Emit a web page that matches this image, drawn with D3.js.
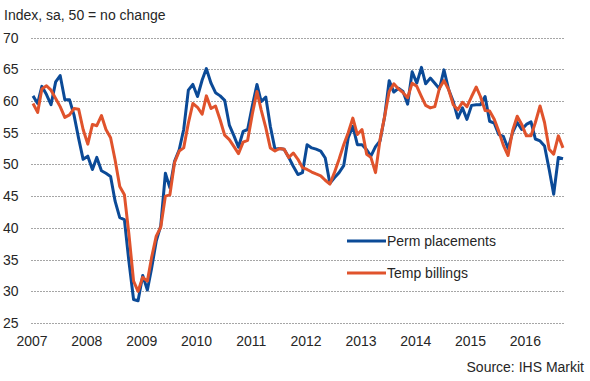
<!DOCTYPE html>
<html>
<head>
<meta charset="utf-8">
<script src="https://cdn.jsdelivr.net/npm/d3@7"></script>
<style>
  html, body { margin: 0; padding: 0; background: #fff; }
  svg { display: block; font-family: "Liberation Sans", Arial, sans-serif; }
</style>
</head>
<body>
<svg id="chart" width="590" height="381"></svg>
<script>
// ---- Data (monthly, Jan 2007 – Sep 2016) ----
const startYear = 2007;
const yearLabels = ["2007","2008","2009","2010","2011","2012","2013","2014","2015","2016"];
const yTicks = [25, 30, 35, 40, 45, 50, 55, 60, 65, 70];

const permPlacements = [
  60.8, 59.6, 62.3, 61.0, 59.4, 63.0, 64.0, 60.2, 60.2, 57.8, 54.1, 50.8,
  51.3, 49.2, 51.1, 49.0, 48.6, 48.1, 44.2, 41.6, 41.3, 34.7, 28.7, 28.5,
  32.5, 30.2, 33.6, 37.9, 40.3, 48.6, 46.3, 50.5, 52.3, 55.5, 61.7, 62.6,
  60.7, 63.3, 65.1, 62.8, 61.3, 60.8, 60.1, 56.2, 54.5, 52.7, 55.2, 55.5,
  59.2, 62.6, 59.9, 60.6, 56.0, 52.4, 52.5, 52.4, 51.1, 49.7, 48.4, 48.7,
  53.1, 52.6, 52.4, 52.1, 51.0, 47.0, 47.9, 48.7, 49.8, 54.2, 56.0, 53.1,
  53.1, 52.3, 51.3, 52.8, 53.7, 57.6, 63.2, 61.4, 62.0, 61.5, 59.5, 64.6,
  62.8, 65.3, 62.7, 63.6, 62.8, 61.9, 64.9, 61.8, 59.9, 57.3, 58.9, 57.1,
  59.3, 59.4, 59.4, 60.7, 56.8, 56.5, 54.7, 54.4, 52.5, 55.0, 56.6, 55.5,
  56.3, 56.7, 54.0, 53.7, 52.9, 49.2, 45.3, 51.1, 50.9
];

const tempBillings = [
  59.6, 58.2, 61.9, 62.4, 61.7, 60.4, 59.1, 57.4, 57.8, 58.8, 58.7, 55.5,
  53.2, 56.3, 56.1, 57.7, 55.5, 54.2, 50.7, 46.5, 45.2, 39.0, 31.6, 30.0,
  32.2, 31.6, 35.3, 38.7, 40.1, 45.0, 45.2, 50.3, 52.1, 52.6, 56.5, 59.6,
  59.0, 57.9, 60.8, 58.8, 59.2, 57.0, 54.6, 53.9, 52.8, 51.7, 53.5, 53.8,
  57.9, 61.5, 58.6, 55.8, 52.6, 52.1, 52.5, 52.4, 51.1, 51.8, 50.8, 49.5,
  49.2, 48.8, 48.5, 48.2, 47.5, 46.9, 48.7, 50.8, 53.1, 55.0, 57.3, 54.7,
  55.5, 51.6, 51.1, 48.7, 53.9, 57.6, 61.5, 62.7, 61.9, 61.3, 60.5, 62.8,
  62.3, 60.7, 59.3, 58.9, 59.1, 62.0, 63.2, 61.8, 59.4, 58.6, 59.8, 59.1,
  60.7, 62.2, 60.7, 58.5, 58.4, 57.1, 55.2, 53.0, 51.4, 55.3, 57.6, 56.3,
  54.5, 54.5, 56.6, 59.2, 56.6, 52.4, 51.6, 54.5, 52.6
];

const seriesNames = ["Perm placements", "Temp billings"];
const seriesColors = ["#0b4a97", "#e0532c"];

// ---- Chart ----
const svg = d3.select("#chart");
const textColor = "#262626";

const dateOf = i => new Date(startYear, i, 1);
const n = permPlacements.length;

const x = d3.scaleTime()
  .domain([dateOf(0), dateOf(n - 1)])
  .range([33, 563]);

const y = d3.scaleLinear()
  .domain([25, 70])
  .range([323, 37.5]);

// gridlines
svg.append("g")
  .selectAll("line")
  .data(yTicks)
  .join("line")
  .attr("x1", 31)
  .attr("x2", 565)
  .attr("y1", d => Math.round(y(d)) + 0.5)
  .attr("y2", d => Math.round(y(d)) + 0.5)
  .attr("stroke", "#a6a6a6")
  .attr("stroke-width", 1)
  .attr("stroke-dasharray", "2,1");

// y labels
svg.append("g")
  .selectAll("text")
  .data(yTicks)
  .join("text")
  .attr("x", 3)
  .attr("y", d => y(d) + 5)
  .attr("font-size", 14)
  .attr("fill", textColor)
  .text(d => d);

// x labels
svg.append("g")
  .selectAll("text")
  .data(yearLabels)
  .join("text")
  .attr("x", d => x(new Date(+d, 0, 1)) - 1)
  .attr("y", 346)
  .attr("text-anchor", "middle")
  .attr("font-size", 14)
  .attr("fill", textColor)
  .text(d => d);

// lines
const line = d3.line()
  .x((d, i) => x(dateOf(i)))
  .y(d => y(d));

[permPlacements, tempBillings].forEach((s, k) => {
  svg.append("path")
    .datum(s)
    .attr("fill", "none")
    .attr("stroke", seriesColors[k])
    .attr("stroke-width", 3)
    .attr("stroke-linejoin", "round")
    .attr("d", line);
});
// draw temp under? Perm drawn first, temp on top (matches reference)

// legend
const legendY = [241, 273];
seriesNames.forEach((name, k) => {
  svg.append("line")
    .attr("x1", 347).attr("x2", 386)
    .attr("y1", legendY[k]).attr("y2", legendY[k])
    .attr("stroke", seriesColors[k])
    .attr("stroke-width", 3);
  svg.append("text")
    .attr("x", 387)
    .attr("y", legendY[k] + 5)
    .attr("font-size", 14)
    .attr("fill", textColor)
    .text(name);
});

// title
svg.append("text")
  .attr("x", 4)
  .attr("y", 20)
  .attr("font-size", 14)
  .attr("fill", textColor)
  .text("Index, sa, 50 = no change");

// source
svg.append("text")
  .attr("x", 584)
  .attr("y", 372)
  .attr("text-anchor", "end")
  .attr("font-size", 14)
  .attr("fill", textColor)
  .text("Source: IHS Markit");
</script>
</body>
</html>
